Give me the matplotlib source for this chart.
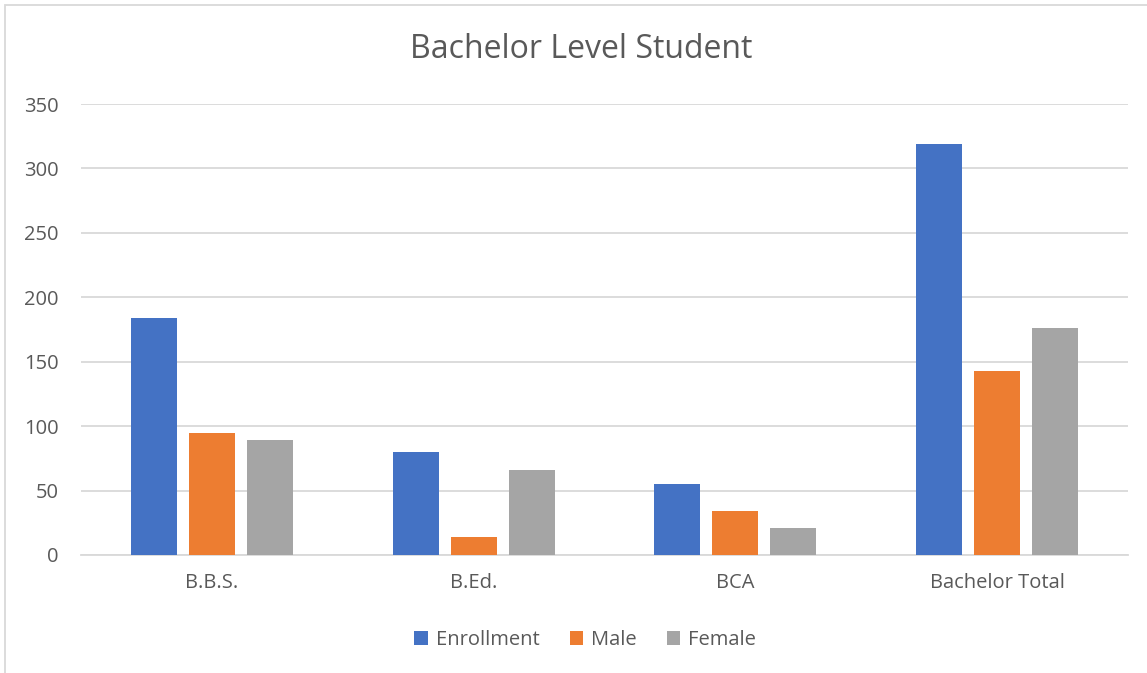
import matplotlib.pyplot as plt
import numpy as np
from matplotlib.patches import Rectangle

categories = ['B.B.S.', 'B.Ed.', 'BCA', 'Bachelor Total']
enrollment = [184, 80, 55, 319]
male = [95, 14, 34, 143]
female = [89, 66, 21, 176]
series_names = ['Enrollment', 'Male', 'Female']
colors = ['#4472C4', '#ED7D31', '#A5A5A5']

plt.rcParams['font.family'] = ['Open Sans', 'DejaVu Sans']
text_col = '#595959'

fig = plt.figure(figsize=(11.47, 6.73), dpi=100)
W, H = 1147, 673
ax = fig.add_axes([81 / W, 1 - 555 / H, (1128 - 81) / W, (555 - 104) / H])

# chart border (cropped on right/bottom)
fig.patches.append(Rectangle((5 / W, -0.1), 1.2, 1 - 5 / H + 0.1, transform=fig.transFigure,
                             fill=False, edgecolor='#D9D9D9', linewidth=1.3))

x = np.arange(len(categories))
w = 0.176
step = 0.2216
for i, (vals, name) in enumerate(zip([enrollment, male, female], series_names)):
    ax.bar(x + (i - 1) * step, vals, w, color=colors[i], label=name, zorder=3)

ax.set_xlim(-0.5, 3.5)
ax.set_ylim(0, 350)
ax.set_yticks(range(0, 351, 50))
ax.set_xticks(x)
ax.set_xticklabels(categories)
ax.grid(axis='y', color='#D9D9D9', linewidth=1.3, zorder=0)
for s in ax.spines.values():
    s.set_visible(False)
ax.spines['bottom'].set_visible(True)
ax.spines['bottom'].set_color('#D9D9D9')
ax.spines['bottom'].set_linewidth(1.3)
ax.tick_params(axis='both', length=0, colors=text_col, labelsize=14.5)
ax.tick_params(axis='y', pad=16)
ax.tick_params(axis='x', pad=13)

fig.text(581 / W, 1 - 49 / H, 'Bachelor Level Student', ha='center', va='center',
         fontsize=23, color=text_col)

leg = fig.legend(loc='center', bbox_to_anchor=(585 / W, 1 - 640 / H), ncol=3, frameon=False,
                 fontsize=14.5, handlelength=0.65, handleheight=0.65, handletextpad=0.4,
                 columnspacing=1.5)
for t in leg.get_texts():
    t.set_color(text_col)

fig.savefig('out.png', dpi=100)
